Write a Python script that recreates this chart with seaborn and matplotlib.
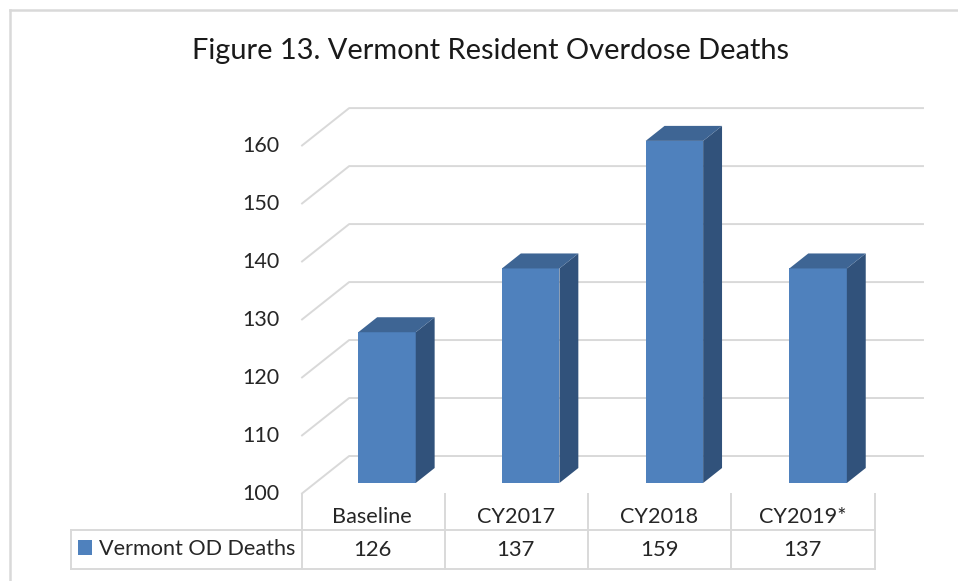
import matplotlib
matplotlib.use("Agg")
import matplotlib.pyplot as plt
from matplotlib.lines import Line2D
from matplotlib.transforms import Affine2D
import seaborn as sns

categories = ["Baseline", "CY2017", "CY2018", "CY2019*"]
deaths = [126, 137, 159, 137]
y_ticks = [100, 110, 120, 130, 140, 150, 160]
series_name = "Vermont OD Deaths"
title = "Figure 13. Vermont Resident Overdose Deaths"

W, H = 958, 581
FRONT, SIDE, TOP = "#4F81BD", "#31527B", "#3E6594"
GRID, INK = "#D9D9D9", "#262626"

sns.set_theme(style="white")
plt.rcParams["font.family"] = ["Lato", "DejaVu Sans"]

fig = plt.figure(figsize=(W / 100, H / 100), dpi=100)
ax = fig.add_axes([315.15 / W, 1 - 483 / H, 574.8 / W, 374 / H])
ax.patch.set_alpha(0)
sns.barplot(x=categories, y=deaths, color=FRONT, saturation=1, width=0.4,
            ax=ax, label=series_name, zorder=3, linewidth=0)
ax.set_xlim(-0.5, 3.5)
ax.set_ylim(100, 164.5)
sns.despine(ax=ax, left=True, bottom=True)

# pseudo-3D depth, expressed in data units
PX_X, PX_Y = 143.7, 5.8
def depth(d):
    return d * 1.26 / PX_X, d / PX_Y

wx, wy = depth(27)
fx, fy = depth(-11)
for v in y_ticks:
    ax.plot([-0.5 + fx, -0.5 + wx, 3.5 + wx], [v + fy, v + wy, v + wy],
            color=GRID, lw=1.4, clip_on=False, zorder=1, solid_capstyle="butt")

bx, by = depth(15)
for patch, v in zip(ax.patches, deaths):
    x0, x1 = patch.get_x(), patch.get_x() + patch.get_width()
    ax.fill([x1, x1 + bx, x1 + bx, x1], [100, 100 + by, v + by, v],
            color=SIDE, lw=0, clip_on=False, zorder=3)
    ax.fill([x0, x1, x1 + bx, x0 + bx], [v, v, v + by, v + by],
            color=TOP, lw=0, clip_on=False, zorder=3)

ax.set_xlabel("")
ax.set_ylabel("")
ax.set_yticks(y_ticks)
ax.set_xticks(range(len(categories)), categories)
ax.tick_params(axis="y", length=0, pad=25.9, labelsize=15.5, labelcolor=INK)
ax.tick_params(axis="x", length=0, pad=17, labelsize=15.6, labelcolor=INK)
for lab in ax.get_yticklabels():
    lab.set_transform(lab.get_transform() + Affine2D().translate(0, -8.5))
for lab in ax.get_xticklabels():
    lab.set_transform(lab.get_transform() + Affine2D().translate(-15, 0))

# data table row
for i, v in enumerate(deaths):
    fig.text((372 + 143.5 * i) / W, 1 - 549.5 / H, str(v), ha="center",
             va="center", fontsize=15.8, color=INK)

# table grid and chart border, in figure fractions
def line(x0, y0, x1, y1, lw=1.4, color=GRID):
    fig.add_artist(Line2D([x0 / W, x1 / W], [1 - y0 / H, 1 - y1 / H],
                          color=color, lw=lw, solid_capstyle="projecting"))

for x in [302, 445, 588, 731, 875]:
    line(x, 494, x, 568.5)
line(71, 530, 875, 530)
line(71, 568.5, 875, 568.5)
line(71, 530, 71, 568.5)
line(10, 9.5, 958, 9.5, lw=1.8)
line(10, 9.5, 10, 581, lw=1.8)

leg = ax.legend(loc="center left", bbox_to_anchor=(78 / W, 1 - 549 / H),
                bbox_transform=fig.transFigure, frameon=False, fontsize=15.6,
                handlelength=0.65, handleheight=0.65, handletextpad=0.3,
                borderpad=0, borderaxespad=0, labelcolor=INK)

fig.text(491 / W, 1 - 51 / H, title, ha="center", va="center", fontsize=20.9,
         color="#1A1A1A")

fig.savefig("out.png", dpi=100, facecolor="white")
